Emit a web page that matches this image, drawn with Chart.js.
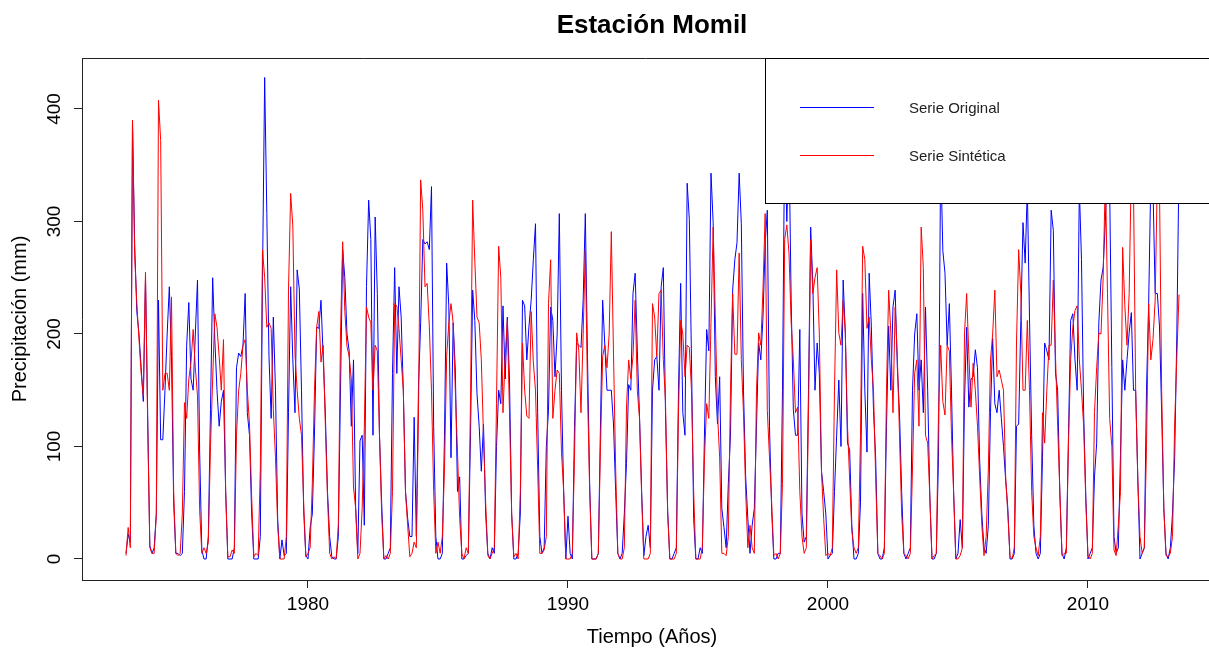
<!DOCTYPE html>
<html><head><meta charset="utf-8">
<script src="https://cdn.jsdelivr.net/npm/chart.js@4.4.1/dist/chart.umd.min.js"></script>
<style>html,body{margin:0;padding:0;background:#fff;overflow:hidden}canvas{display:block}</style>
</head><body>
<canvas id="c" width="1209" height="649"></canvas>
<script>
const chartTitle = "Estación Momil";
const xTitle = "Tiempo (Años)";
const yTitle = "Precipitación (mm)";
const seriesNames = ["Serie Original", "Serie Sintética"];
const seriesColors = ["#0000ff", "#ff0000"];
const startYear = 1973; // monthly series, first value = January 1973
const xTicks = [1980, 1990, 2000, 2010];
const yTicks = [0, 100, 200, 300, 400];

const original = [
  5, 22, 15, 388, 280, 220, 200, 170, 140, 250, 130, 12,   // 1973
  5, 10, 40, 230, 106, 106, 150, 200, 242, 180, 50, 5,     // 1974
  5, 3, 5, 60, 190, 228, 160, 150, 200, 248, 95, 8,        // 1975
  0, 0, 20, 133, 250, 195, 150, 118, 140, 150, 60, 0,      // 1976
  0, 0, 10, 170, 183, 180, 190, 236, 130, 110, 40, 0,      // 1977
  0, 0, 20, 250, 428, 307, 180, 125, 215, 150, 36, 0,      // 1978
  17, 3, 5, 130, 242, 177, 130, 257, 240, 150, 43, 3,      // 1979
  0, 28, 40, 112, 206, 205, 230, 180, 130, 60, 20, 2,      // 1980
  0, 0, 20, 150, 275, 250, 200, 185, 118, 177, 45, 5,      // 1981
  105, 110, 30, 242, 319, 284, 110, 304, 236, 110, 50, 0,  // 1982
  0, 5, 10, 165, 259, 165, 242, 215, 150, 60, 36, 20,      // 1983
  20, 126, 20, 153, 210, 284, 280, 282, 275, 331, 118, 20, // 1984
  0, 0, 5, 110, 263, 225, 90, 210, 168, 60, 73, 0,         // 1985
  0, 3, 5, 110, 239, 212, 147, 118, 78, 120, 40, 5,        // 1986
  0, 10, 5, 100, 150, 138, 225, 160, 215, 160, 40, 0,      // 1987
  0, 5, 40, 230, 225, 177, 207, 230, 266, 298, 130, 20,    // 1988
  5, 10, 100, 132, 224, 212, 162, 200, 307, 150, 60, 0,    // 1989
  38, 5, 0, 117, 192, 190, 188, 230, 307, 180, 67, 0,      // 1990
  0, 0, 5, 120, 230, 190, 150, 150, 150, 120, 60, 5,       // 1991
  0, 5, 40, 85, 155, 150, 236, 254, 185, 128, 60, 3,       // 1992
  20, 30, 10, 150, 177, 180, 150, 242, 259, 130, 43, 0,    // 1993
  0, 5, 10, 150, 245, 130, 110, 334, 302, 177, 36, 0,      // 1994
  0, 10, 5, 112, 204, 185, 343, 299, 162, 120, 162, 45,    // 1995
  28, 10, 67, 110, 239, 266, 281, 343, 298, 150, 73, 36,   // 1996
  5, 30, 45, 118, 192, 177, 215, 280, 310, 118, 43, 0,     // 1997
  0, 5, 5, 150, 380, 300, 370, 230, 133, 110, 110, 204,    // 1998
  40, 15, 20, 150, 295, 245, 150, 192, 165, 78, 60, 40,    // 1999
  0, 3, 5, 60, 110, 159, 100, 248, 201, 103, 97, 30,       // 2000
  0, 0, 5, 50, 236, 150, 95, 254, 207, 132, 90, 5,         // 2001
  0, 0, 10, 118, 207, 150, 224, 239, 170, 130, 60, 5,      // 2002
  0, 5, 10, 150, 200, 218, 150, 177, 130, 224, 150, 55,    // 2003
  0, 0, 5, 90, 360, 274, 254, 190, 227, 150, 58, 0,        // 2004
  5, 35, 10, 140, 206, 135, 160, 162, 186, 170, 88, 40,    // 2005
  10, 5, 30, 130, 196, 138, 130, 150, 125, 100, 70, 45,    // 2006
  0, 0, 5, 118, 120, 212, 299, 263, 330, 215, 110, 30,     // 2007
  5, 0, 5, 90, 192, 185, 177, 310, 292, 165, 150, 58,      // 2008
  5, 0, 10, 110, 212, 218, 177, 150, 330, 266, 130, 55,    // 2009
  0, 5, 10, 73, 103, 210, 248, 259, 300, 350, 330, 170,    // 2010
  20, 5, 10, 93, 177, 150, 177, 201, 219, 150, 150, 70,    // 2011
  0, 5, 10, 150, 227, 340, 330, 236, 236, 207, 130, 45,    // 2012
  5, 0, 10, 40, 90, 200, 350                               // 2013
];

const synthetic = [
  3, 28, 10, 390, 270, 227, 195, 165, 145, 255, 120, 10,   // 1973
  5, 5, 40, 408, 372, 150, 165, 165, 150, 233, 60, 5,      // 1974
  3, 5, 40, 139, 125, 160, 175, 204, 170, 145, 43, 5,      // 1975
  10, 5, 15, 100, 160, 218, 206, 180, 150, 195, 60, 2,     // 1976
  2, 8, 5, 110, 150, 165, 190, 195, 150, 120, 55, 2,       // 1977
  5, 3, 80, 275, 250, 206, 210, 205, 133, 90, 30, 0,       // 1978
  0, 0, 20, 239, 325, 296, 182, 150, 125, 110, 50, 2,      // 1979
  5, 10, 67, 150, 206, 220, 175, 190, 120, 55, 5, 0,       // 1980
  2, 0, 30, 200, 282, 220, 189, 180, 160, 64, 45, 0,       // 1981
  5, 45, 117, 224, 215, 210, 150, 190, 185, 110, 40, 0,    // 1982
  3, 0, 5, 60, 227, 225, 205, 177, 150, 60, 30, 2,         // 1983
  5, 15, 10, 130, 337, 310, 242, 245, 207, 150, 60, 5,     // 1984
  15, 5, 20, 80, 180, 210, 227, 210, 150, 95, 36, 5,       // 1985
  0, 10, 5, 140, 319, 265, 215, 210, 177, 110, 50, 3,      // 1986
  0, 5, 10, 138, 278, 250, 130, 180, 212, 130, 40, 2,      // 1987
  5, 0, 60, 192, 150, 127, 125, 220, 175, 150, 80, 5,      // 1988
  5, 8, 20, 227, 266, 125, 150, 168, 165, 95, 60, 0,       // 1989
  0, 0, 5, 90, 201, 185, 130, 200, 275, 150, 60, 0,        // 1990
  0, 0, 5, 100, 180, 190, 170, 200, 291, 183, 80, 5,       // 1991
  0, 0, 10, 135, 177, 160, 180, 230, 150, 125, 55, 0,      // 1992
  0, 0, 5, 227, 215, 180, 236, 239, 177, 140, 40, 0,       // 1993
  0, 0, 5, 130, 212, 200, 162, 190, 188, 150, 60, 0,       // 1994
  0, 0, 10, 90, 138, 125, 210, 295, 215, 130, 90, 5,       // 1995
  5, 3, 20, 150, 236, 182, 182, 272, 177, 130, 60, 10,     // 1996
  30, 10, 5, 150, 201, 190, 240, 307, 132, 90, 50, 3,      // 1997
  5, 0, 5, 67, 284, 297, 272, 210, 177, 130, 135, 60,      // 1998
  20, 5, 10, 130, 284, 236, 250, 259, 200, 78, 36, 3,      // 1999
  5, 3, 10, 150, 257, 201, 190, 230, 201, 118, 70, 25,     // 2000
  10, 5, 10, 110, 278, 266, 205, 215, 177, 150, 73, 5,     // 2001
  3, 0, 5, 150, 239, 201, 130, 224, 180, 110, 40, 5,       // 2002
  3, 0, 5, 80, 165, 177, 118, 295, 259, 110, 103, 55,      // 2003
  0, 3, 5, 130, 190, 140, 128, 190, 185, 110, 58, 0,       // 2004
  0, 3, 10, 200, 236, 182, 135, 174, 150, 118, 73, 30,     // 2005
  3, 20, 80, 177, 200, 239, 162, 168, 159, 150, 73, 40,    // 2006
  3, 0, 10, 192, 275, 236, 150, 150, 212, 150, 60, 20,     // 2007
  10, 3, 20, 130, 103, 150, 190, 190, 248, 180, 118, 60,   // 2008
  3, 5, 5, 103, 177, 206, 221, 225, 177, 150, 118, 50,     // 2009
  3, 0, 5, 130, 170, 201, 200, 250, 340, 236, 125, 100,    // 2010
  8, 3, 30, 60, 277, 225, 190, 236, 350, 330, 150, 70,     // 2011
  20, 5, 10, 100, 227, 177, 195, 230, 340, 330, 150, 45,   // 2012
  3, 2, 5, 20, 120, 180, 235                               // 2013
];

const FONT = 'Arial, "Liberation Sans", Helvetica, sans-serif';
const toPoints = arr => arr.map((v, i) => ({ x: startYear + i / 12, y: v }));

const chrome = {
  id: 'chrome',
  afterDraw(chart) {
    const ctx = chart.ctx;
    const a = chart.chartArea;
    ctx.save();
    // top edge of the plot box
    ctx.strokeStyle = '#222';
    ctx.lineWidth = 1;
    ctx.beginPath();
    ctx.moveTo(a.left, a.top + 0.5);
    ctx.lineTo(a.right, a.top + 0.5);
    ctx.stroke();
    // legend box (white, drawn over the lines)
    const lx = 765.5, ly = a.top + 0.5, lh = 145;
    ctx.fillStyle = '#fff';
    ctx.fillRect(lx, ly, 1209 - lx + 10, lh);
    ctx.strokeStyle = '#000';
    ctx.strokeRect(lx, ly, 1209 - lx + 10, lh);
    const rowsY = [107.5, 155.5];
    ctx.font = '15px ' + FONT;
    ctx.textAlign = 'left';
    ctx.textBaseline = 'middle';
    seriesNames.forEach((name, k) => {
      ctx.strokeStyle = seriesColors[k];
      ctx.lineWidth = 1;
      ctx.beginPath();
      ctx.moveTo(800, rowsY[k]);
      ctx.lineTo(874, rowsY[k]);
      ctx.stroke();
      ctx.fillStyle = '#222';
      ctx.fillText(name, 909, rowsY[k] + 1);
    });
    // title
    ctx.fillStyle = '#000';
    ctx.textAlign = 'center';
    ctx.font = 'bold 26px ' + FONT;
    ctx.fillText(chartTitle, 652, 26);
    // axis titles
    ctx.font = '20px ' + FONT;
    ctx.fillText(xTitle, 652, 637);
    ctx.translate(20, 319);
    ctx.rotate(-Math.PI / 2);
    ctx.fillText(yTitle, 0, 0);
    ctx.restore();
  }
};

new Chart(document.getElementById('c'), {
  type: 'line',
  data: {
    datasets: [
      { label: seriesNames[0], data: toPoints(original), borderColor: seriesColors[0], order: 1 },
      { label: seriesNames[1], data: toPoints(synthetic), borderColor: seriesColors[1], order: 0 }
    ]
  },
  options: {
    responsive: false,
    animation: false,
    devicePixelRatio: 1,
    parsing: false,
    normalized: true,
    elements: {
      point: { radius: 0, hoverRadius: 0 },
      line: { borderWidth: 1, tension: 0, fill: false, borderJoinStyle: 'round' }
    },
    layout: { padding: { top: 58, left: 0, right: 0, bottom: 0 } },
    plugins: { legend: { display: false }, tooltip: { enabled: false }, title: { display: false } },
    events: [],
    scales: {
      x: {
        type: 'linear',
        min: 1971.308,
        max: 2014.654,
        afterBuildTicks: s => { s.ticks = xTicks.map(v => ({ value: v })); },
        afterFit: s => { s.height = 69; },
        grid: { display: true, drawOnChartArea: false, drawTicks: true, tickLength: 8, color: '#222' },
        border: { display: true, color: '#222', width: 1 },
        ticks: {
          autoSkip: false, maxRotation: 0, minRotation: 0, padding: 5,
          color: '#000', font: { family: FONT, size: 19 },
          callback: v => String(v)
        }
      },
      y: {
        type: 'linear',
        min: -18.67,
        max: 445.33,
        afterBuildTicks: s => { s.ticks = yTicks.map(v => ({ value: v })); },
        afterFit: s => { s.width = 82; },
        grid: { display: true, drawOnChartArea: false, drawTicks: true, tickLength: 8, color: '#222' },
        border: { display: true, color: '#222', width: 1 },
        ticks: {
          autoSkip: false, minRotation: 90, maxRotation: 90, crossAlign: 'center', padding: 3,
          color: '#000', font: { family: FONT, size: 19 },
          callback: v => String(v)
        }
      }
    }
  },
  plugins: [chrome]
});
</script>
</body></html>
